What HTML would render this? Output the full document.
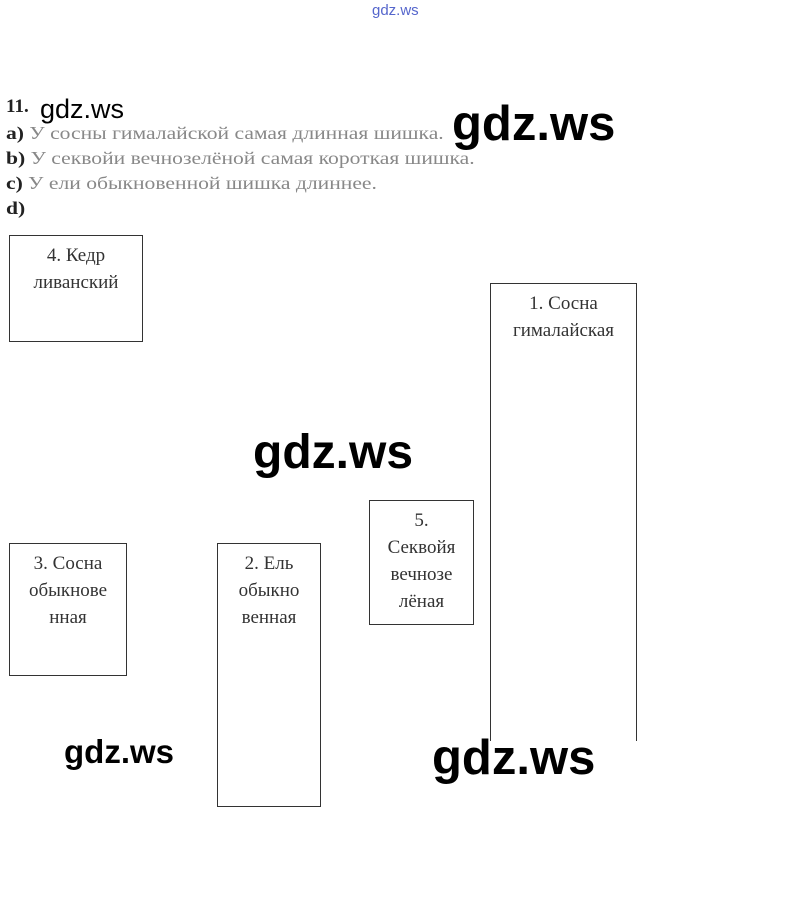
<!DOCTYPE html>
<html><head><meta charset="utf-8"><style>
body{margin:0;width:800px;height:905px;background:#fff;position:relative;overflow:hidden;font-family:"Liberation Serif",serif}
.a{position:absolute;white-space:nowrap}
.t{font-size:18px;color:#888;line-height:25px;transform:scaleX(1.2);transform-origin:0 0}
.t b{color:#222}
.w{font-family:"Liberation Sans",sans-serif;color:#000;font-weight:bold;transform-origin:0 0}
.box{position:absolute;border:1px solid #333;box-sizing:border-box;text-align:center;font-size:19px;line-height:27px;color:#333;padding-top:6px}
</style></head><body>
<div class="a" style="left:372px;top:2px;font-size:15px;color:#5566cc;font-family:'Liberation Sans',sans-serif">gdz.ws</div>
<div class="a" style="left:6px;top:96px;font-size:19px;font-weight:bold;color:#222">11.</div>
<div class="a w" style="left:40px;top:94px;font-size:27px;font-weight:normal">gdz.ws</div>
<div class="a t" style="left:6px;top:121px"><b>a)</b> У сосны гималайской самая длинная шишка.</div>
<div class="a t" style="left:6px;top:146px"><b>b)</b> У секвойи вечнозелёной самая короткая шишка.</div>
<div class="a t" style="left:6px;top:171px"><b>c)</b> У ели обыкновенной шишка длиннее.</div>
<div class="a t" style="left:6px;top:196px"><b>d)</b></div>
<div class="a w" style="left:452px;top:96px;font-size:49px">gdz.ws</div>
<div class="box" style="left:9px;top:235px;width:134px;height:107px">4. Кедр<br>ливанский</div>
<div class="box" style="left:490px;top:283px;width:147px;height:458px;border-bottom:none">1. Сосна<br>гималайская</div>
<div class="a w" style="left:253px;top:425px;font-size:48px">gdz.ws</div>
<div class="box" style="left:369px;top:500px;width:105px;height:125px">5.<br>Секвойя<br>вечнозе<br>лёная</div>
<div class="box" style="left:9px;top:543px;width:118px;height:133px">3. Сосна<br>обыкнове<br>нная</div>
<div class="box" style="left:217px;top:543px;width:104px;height:264px">2. Ель<br>обыкно<br>венная</div>
<div class="a w" style="left:64px;top:733px;font-size:33px">gdz.ws</div>
<div class="a w" style="left:432px;top:730px;font-size:49px">gdz.ws</div>
</body></html>
